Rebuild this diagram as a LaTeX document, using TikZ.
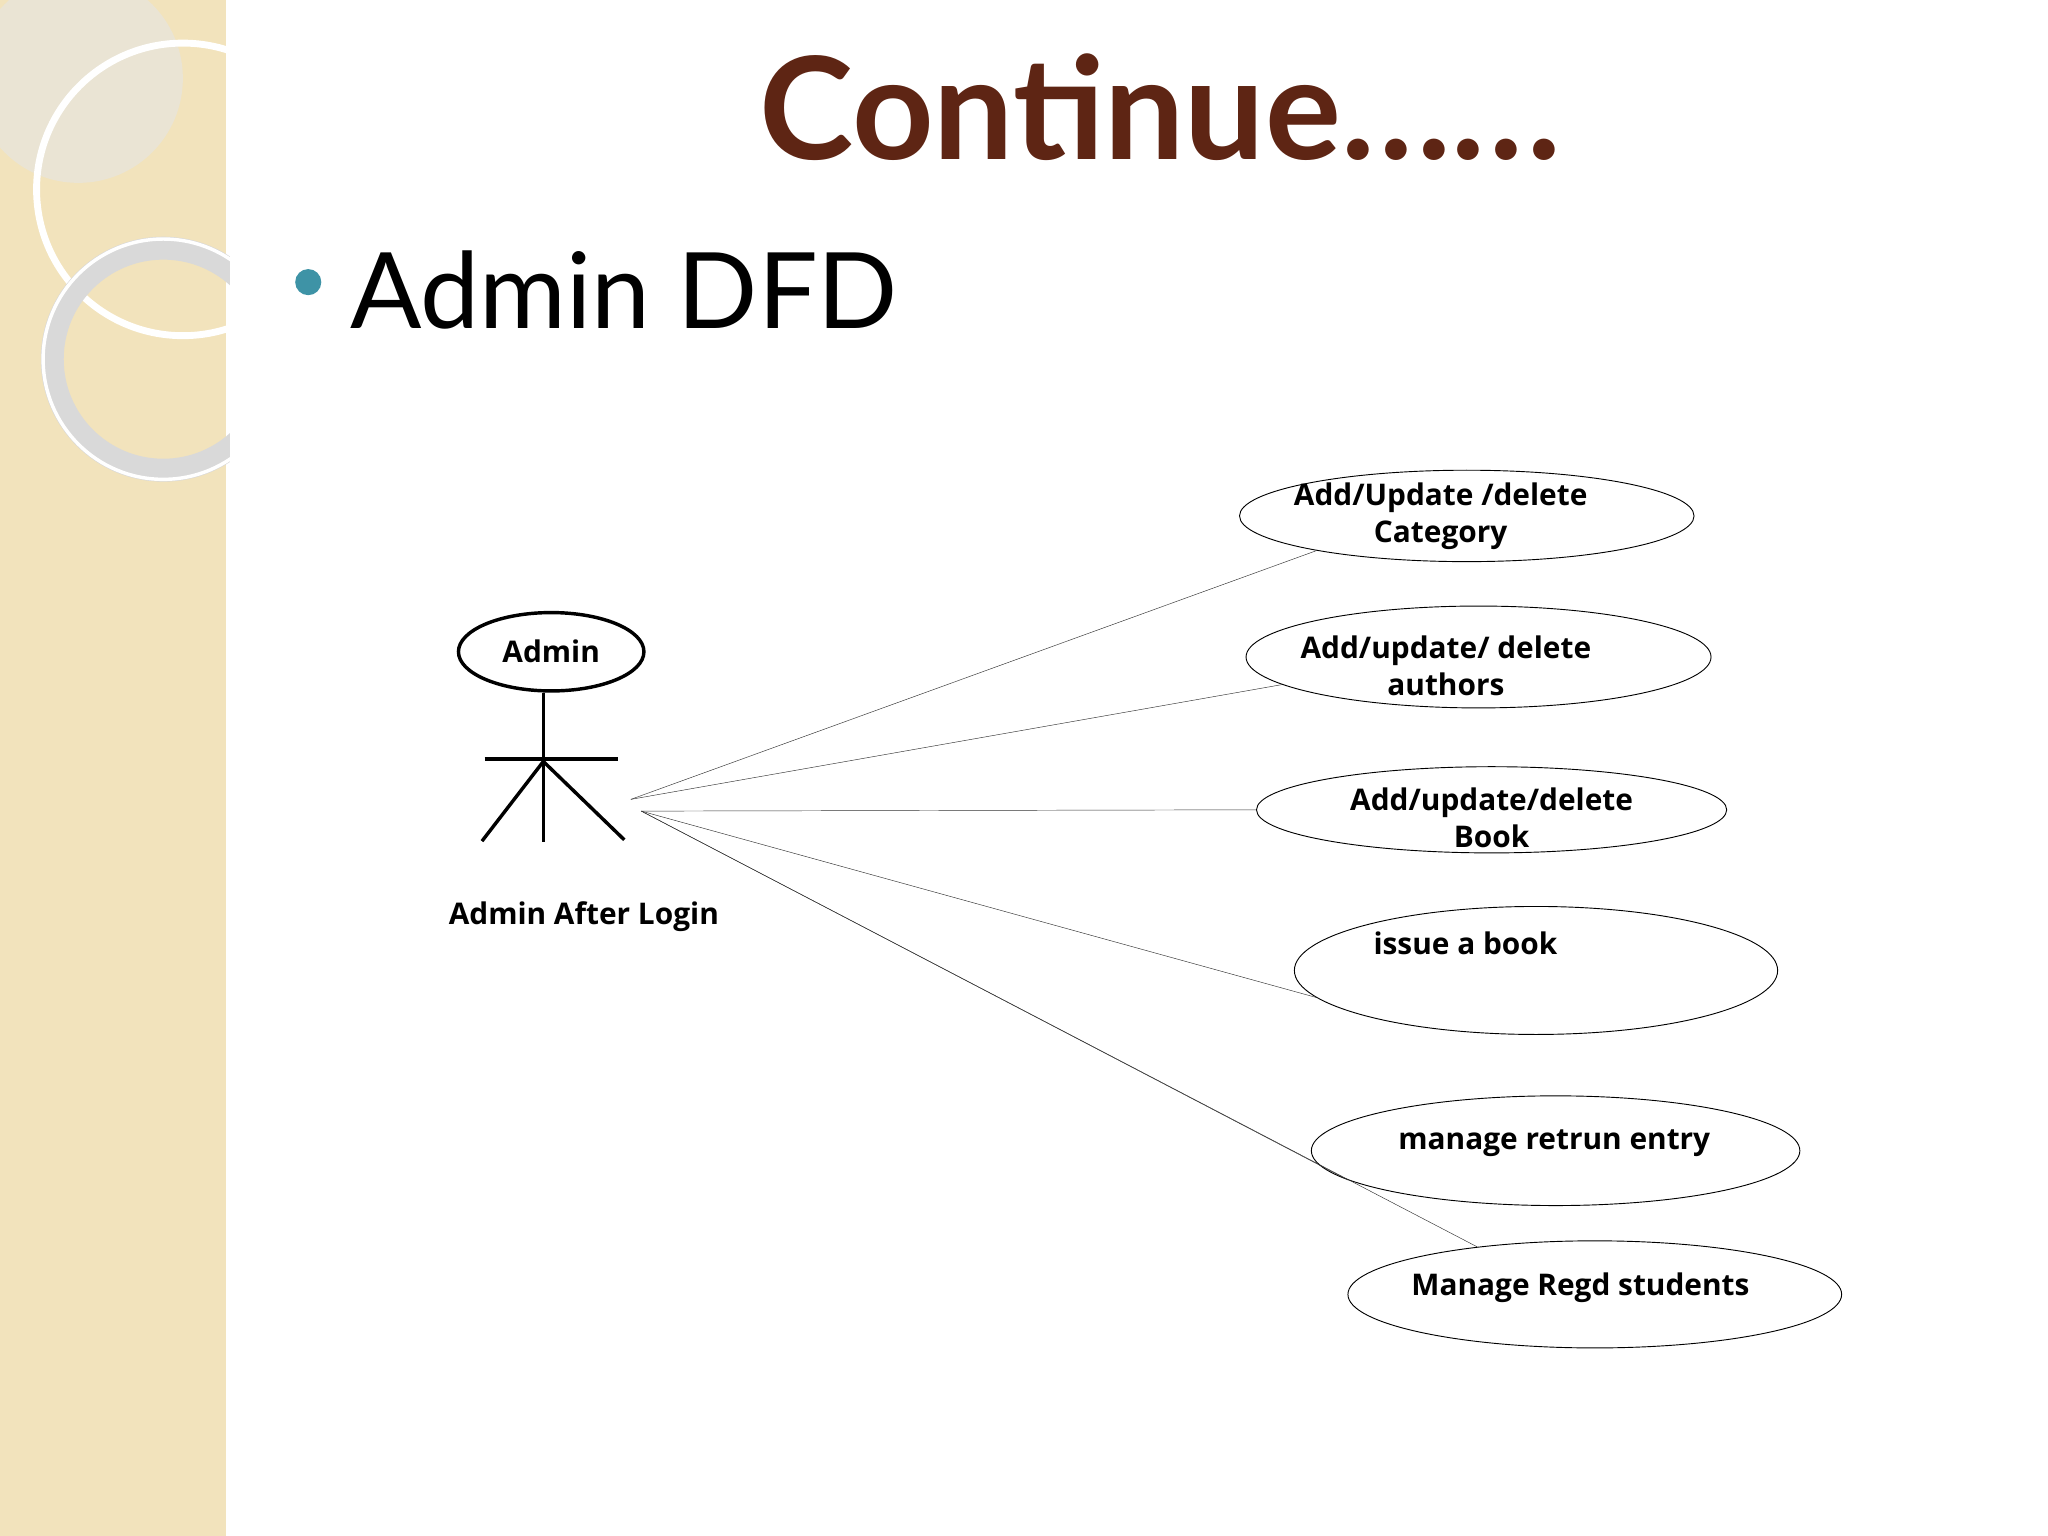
\documentclass[tikz,border=0pt]{standalone}
\usepackage{fontspec}
\setmainfont{Open Sans}
\newfontfamily\titlefont{Lato}
\usetikzlibrary{shapes.geometric}
\definecolor{strip}{HTML}{F2E3BC}
\definecolor{titlebrown}{HTML}{5E2514}
\definecolor{bullet}{HTML}{3E93A6}
\begin{document}
\begin{tikzpicture}[x=0.02cm,y=-0.02cm,
  usecase/.style={ellipse, draw, thin, inner sep=0pt},
  utext/.style={font=\bfseries\fontsize{13}{16}\selectfont, align=center},
  flow/.style={draw, very thin, black!80}
]
\useasboundingbox (0,0) rectangle (1568,1176);
% background strip
\fill[strip] (0,0) rectangle (173,1176);
\begin{scope}
  \clip (0,0) rectangle (176,1176);
  \fill[black!10, opacity=0.6] (60,60) circle (80);
  \draw[white, line width=3pt] (140,145) circle (112);
  \draw[black!15, line width=10pt] (125,275) circle (85);
  \draw[white, line width=1.5pt] (125,275) circle (92);
\end{scope}
% title and bullet
\node[font=\titlefont\bfseries\fontsize{62}{70}\selectfont, text=titlebrown] (title) at (888,82) {Continue\ldots\ldots};
\fill[bullet] (236,216) circle (10);
\node[anchor=west, font=\titlefont\fontsize{46}{52}\selectfont] (head) at (262,222) {Admin DFD};
% actor
\node[ellipse, draw, line width=1.5pt, minimum width=142*0.02cm, minimum height=60*0.02cm, utext] (admin) at (422,499) {Admin};
\coordinate (hip) at (416,583);
\draw[line width=1.5pt] (admin.south -| hip) -- (416,645);
\draw[line width=1.5pt] (371,581) -- (473,581);
\draw[line width=1.5pt] (hip) -- (369,644) (hip) -- (478,643);
\node[utext] (actor) at (447,702) {Admin After Login};
% use cases
\node[usecase, minimum width=348*0.02cm, minimum height=70*0.02cm] (cat) at (1123,395) {};
\node[utext] at (1103,395) {Add/Update /delete\\Category};
\node[usecase, minimum width=356*0.02cm, minimum height=78*0.02cm] (auth) at (1132,503) {};
\node[utext] at (1107,510) {Add/update/ delete\\authors};
\node[usecase, minimum width=360*0.02cm, minimum height=66*0.02cm] (book) at (1142,620) {};
\node[utext] at (1142,626) {Add/update/delete\\Book};
\node[usecase, minimum width=370*0.02cm, minimum height=98*0.02cm] (issue) at (1176,743) {};
\node[utext] at (1122,722) {issue a book};
\node[usecase, minimum width=374*0.02cm, minimum height=84*0.02cm] (ret) at (1191,881) {};
\node[utext] at (1190,875) {manage retrun entry};
\node[usecase, minimum width=378*0.02cm, minimum height=82*0.02cm] (regd) at (1221,991) {};
\node[utext] at (1210,986) {Manage Regd students};
% connectors
\coordinate (a1) at (483,612);
\coordinate (a2) at (491,621);
\draw[flow] (a1) -- (cat.193);
\draw[flow] (a1) -- (auth.188);
\draw[flow] (a2) -- (book.west);
\draw[flow] (a2) -- (issue.187);
\draw[flow] (a2) -- (ret.188);
\draw[flow] (a2) -- (regd.158);
\end{tikzpicture}
\end{document}
